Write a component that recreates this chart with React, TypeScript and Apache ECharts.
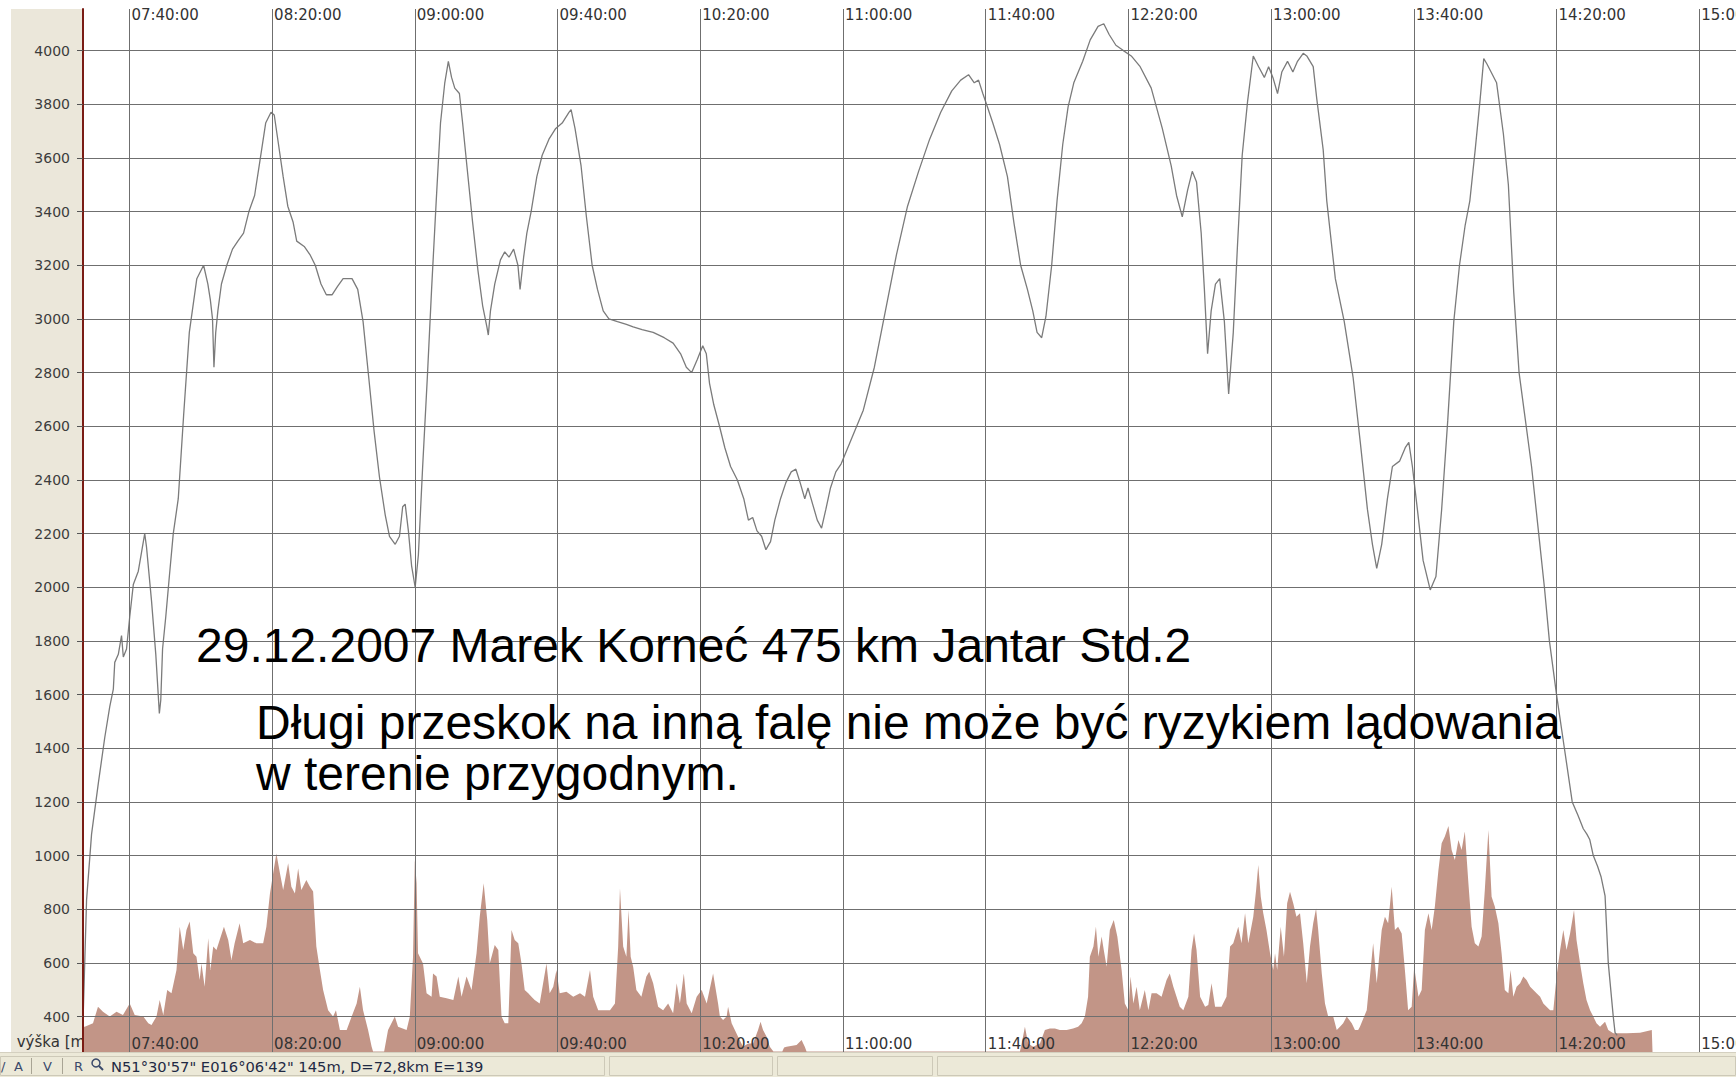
import React, { useEffect, useRef } from "react";
import * as echarts from "echarts";

// ---- data (time in minutes after midnight, value in metres) ----
const altitudeTicks = [400, 600, 800, 1000, 1200, 1400, 1600, 1800, 2000, 2200, 2400, 2600, 2800, 3000, 3200, 3400, 3600, 3800, 4000];
const timeTicks = [460, 500, 540, 580, 620, 660, 700, 740, 780, 820, 860, 900];

const altitude: [number, number][] = [
  [447.0, 380], [448.0, 835], [449.4, 1080], [451.3, 1270], [453.1, 1440], [454.5, 1555], [455.5, 1620], [455.9, 1720],
  [456.9, 1750], [457.8, 1820], [458.3, 1740], [459.2, 1770], [460.1, 1890], [461.1, 2010], [462.5, 2060], [463.4, 2130],
  [464.3, 2200], [464.8, 2150], [466.2, 1950], [467.4, 1750], [468.4, 1530], [468.8, 1580], [469.3, 1770], [470.2, 1890],
  [471.2, 2040], [472.3, 2200], [473.7, 2330], [475.2, 2640], [476.8, 2950], [478.9, 3150], [480.8, 3200], [482.0, 3130],
  [482.7, 3070], [483.3, 3000], [483.7, 2820], [484.2, 2950], [484.8, 3030], [485.8, 3130], [487.3, 3200], [488.9, 3260],
  [490.4, 3290], [492.0, 3320], [493.5, 3400], [495.1, 3460], [496.6, 3590], [498.2, 3730], [499.7, 3770], [500.6, 3760],
  [501.8, 3650], [503.1, 3530], [504.4, 3420], [505.9, 3360], [506.9, 3290], [509.0, 3270], [510.6, 3240], [512.1, 3200],
  [513.7, 3130], [515.2, 3090], [516.8, 3090], [518.3, 3120], [519.9, 3150], [522.4, 3150], [524.0, 3110], [525.5, 2990],
  [527.1, 2780], [528.6, 2580], [530.1, 2410], [531.7, 2270], [532.9, 2190], [534.5, 2160], [535.7, 2190], [536.6, 2300],
  [537.3, 2310], [538.2, 2210], [539.1, 2080], [540.1, 2000], [541.0, 2120], [542.2, 2450], [543.5, 2780], [544.7, 3110],
  [546.0, 3440], [547.2, 3730], [548.4, 3880], [549.4, 3960], [550.3, 3900], [551.2, 3860], [552.5, 3840], [553.4, 3730],
  [554.6, 3570], [556.2, 3360], [557.7, 3180], [559.0, 3050], [560.2, 2970], [560.6, 2940], [561.2, 3030], [562.4, 3130],
  [564.0, 3220], [565.2, 3250], [566.4, 3230], [567.7, 3260], [568.9, 3200], [569.5, 3110], [570.5, 3230], [571.4, 3320],
  [572.6, 3400], [574.2, 3530], [575.7, 3610], [577.6, 3670], [579.5, 3710], [581.3, 3730], [583.2, 3770], [583.8, 3780],
  [584.9, 3710], [586.6, 3570], [588.1, 3380], [589.7, 3200], [591.2, 3110], [592.8, 3030], [594.4, 3000], [596.8, 2990],
  [599.3, 2980], [601.2, 2970], [603.7, 2960], [606.8, 2950], [609.9, 2930], [612.4, 2910], [614.5, 2870], [616.1, 2820],
  [617.6, 2800], [619.2, 2850], [620.7, 2900], [621.7, 2870], [622.6, 2760], [623.8, 2680], [625.4, 2600], [626.9, 2520],
  [628.5, 2450], [630.4, 2400], [632.2, 2330], [633.5, 2250], [634.7, 2260], [635.9, 2210], [637.2, 2190], [638.4, 2140],
  [639.7, 2170], [640.9, 2250], [642.5, 2330], [644.0, 2390], [645.5, 2430], [646.8, 2440], [648.0, 2390], [649.3, 2330],
  [650.2, 2370], [651.5, 2310], [652.8, 2250], [654.0, 2220], [655.2, 2290], [656.5, 2370], [658.0, 2430], [659.5, 2460],
  [662.6, 2560], [665.7, 2660], [668.8, 2820], [671.9, 3030], [675.0, 3240], [678.1, 3420], [681.2, 3550], [684.3, 3670],
  [687.4, 3770], [690.5, 3850], [693.0, 3890], [695.2, 3910], [696.8, 3880], [698.0, 3890], [699.2, 3840], [700.5, 3790],
  [702.0, 3730], [703.9, 3650], [706.1, 3530], [707.9, 3360], [709.8, 3200], [711.7, 3110], [713.2, 3030], [714.4, 2950],
  [715.7, 2930], [716.9, 3010], [718.5, 3200], [720.0, 3440], [721.6, 3650], [723.1, 3790], [724.7, 3880], [727.2, 3960],
  [729.3, 4040], [731.5, 4090], [733.1, 4100], [734.6, 4060], [736.5, 4020], [738.6, 4000], [740.8, 3980], [743.3, 3940],
  [746.4, 3860], [749.5, 3710], [752.0, 3570], [753.5, 3460], [755.1, 3380], [756.6, 3480], [757.9, 3550], [759.1, 3510],
  [760.4, 3320], [761.3, 3110], [762.2, 2870], [763.2, 3030], [764.4, 3130], [765.6, 3150], [766.9, 2990], [768.1, 2720],
  [769.4, 2950], [770.6, 3280], [771.9, 3610], [773.4, 3810], [775.0, 3980], [776.5, 3940], [778.1, 3900], [779.3, 3940],
  [780.5, 3900], [781.8, 3840], [783.0, 3920], [784.6, 3960], [786.1, 3920], [787.4, 3960], [789.0, 3990], [790.0, 3980],
  [791.8, 3940], [792.8, 3820], [794.6, 3630], [795.6, 3440], [798.0, 3150], [800.5, 2990], [803.0, 2780], [805.0, 2540],
  [807.0, 2290], [808.4, 2160], [809.6, 2070], [811.0, 2160], [812.6, 2330], [814.0, 2450], [816.0, 2470], [817.6, 2520],
  [818.6, 2540], [819.6, 2450], [821.0, 2290], [822.6, 2100], [824.6, 1990], [826.2, 2040], [827.8, 2290], [829.5, 2620],
  [831.2, 2990], [832.8, 3200], [834.4, 3350], [835.7, 3440], [837.2, 3630], [838.6, 3820], [839.6, 3970], [840.5, 3950],
  [843.2, 3880], [845.1, 3690], [846.5, 3500], [848.0, 3100], [849.5, 2800], [851.0, 2650], [853.0, 2450], [855.0, 2200],
  [856.6, 2000], [858.0, 1800], [860.0, 1600], [862.2, 1400], [864.4, 1200], [866.0, 1150], [867.5, 1100], [868.5, 1080],
  [869.3, 1060], [870.3, 1000], [871.5, 960], [872.5, 920], [873.6, 850], [874.5, 600], [875.9, 400], [876.4, 340],
  [877.0, 330]
];

const terrain: [number, number][] = [
  [447.0, 362], [447.5, 362], [449.8, 375], [451.2, 437], [452.6, 418], [454.5, 400], [456.4, 418], [458.2, 406],
  [460.1, 449], [461.5, 406], [463.9, 400], [465.3, 375], [466.2, 369], [467.6, 400], [468.5, 462], [469.5, 406],
  [470.6, 499], [471.8, 487], [473.2, 574], [474.1, 735], [475.1, 648], [476.0, 723], [476.9, 754], [477.9, 636],
  [478.8, 623], [479.7, 536], [480.2, 598], [481.1, 511], [482.1, 692], [482.7, 574], [483.5, 661], [484.4, 648],
  [485.3, 685], [486.5, 735], [487.7, 685], [488.6, 611], [489.5, 673], [490.9, 748], [491.9, 673], [493.8, 685],
  [495.6, 673], [497.5, 673], [498.4, 735], [499.4, 859], [500.3, 934], [501.2, 1008], [502.2, 934], [503.1, 872],
  [504.5, 971], [505.4, 884], [506.4, 859], [507.3, 952], [508.2, 872], [509.6, 909], [510.6, 884], [511.5, 866],
  [512.4, 661], [513.4, 574], [514.3, 499], [515.7, 424], [517.1, 400], [517.9, 424], [519.0, 350], [520.9, 350],
  [522.3, 400], [523.7, 449], [524.6, 511], [525.5, 424], [526.9, 350], [527.9, 288], [528.3, 270], [531.4, 270],
  [532.5, 350], [534.4, 400], [535.3, 362], [537.7, 350], [538.6, 400], [539.5, 623], [540.0, 984], [540.5, 897],
  [540.9, 636], [542.3, 598], [543.3, 487], [544.7, 474], [545.1, 561], [546.1, 549], [547.0, 474], [548.9, 468],
  [550.8, 462], [552.2, 549], [553.1, 474], [554.5, 549], [555.9, 499], [557.3, 636], [558.2, 772], [559.3, 897],
  [560.3, 760], [561.0, 598], [562.4, 667], [563.4, 648], [564.3, 400], [565.2, 375], [566.2, 375], [567.1, 723],
  [568.0, 685], [569.0, 673], [569.9, 598], [570.8, 499], [571.8, 487], [572.7, 474], [573.6, 462], [575.0, 449],
  [576.9, 598], [577.8, 487], [578.8, 511], [579.7, 574], [580.6, 487], [582.5, 493], [584.4, 474], [586.3, 487],
  [587.7, 474], [589.1, 574], [590.0, 474], [591.4, 424], [592.8, 424], [594.7, 424], [596.1, 449], [597.0, 661],
  [597.5, 878], [598.4, 661], [599.3, 623], [599.9, 797], [600.5, 623], [601.2, 586], [602.1, 499], [603.5, 474],
  [604.9, 549], [605.7, 567], [606.8, 524], [608.2, 437], [609.6, 424], [611.0, 449], [612.4, 412], [613.4, 524],
  [614.3, 449], [615.4, 561], [616.2, 449], [617.6, 412], [619.0, 474], [620.4, 499], [621.8, 449], [623.6, 561],
  [625.0, 449], [625.5, 400], [626.4, 387], [627.4, 400], [627.8, 437], [628.8, 375], [629.7, 350], [630.6, 325],
  [632.0, 288], [633.4, 300], [634.8, 300], [636.2, 350], [636.9, 381], [637.6, 350], [638.6, 325], [639.5, 288],
  [640.5, 270], [643.0, 270], [643.5, 285], [644.2, 288], [647.0, 294], [648.4, 313], [649.3, 288], [649.8, 270],
  [709.6, 270], [710.1, 300], [711.0, 362], [711.9, 300], [713.3, 288], [715.2, 300], [716.6, 350], [718.0, 356],
  [719.4, 356], [720.8, 350], [722.7, 350], [724.5, 356], [725.9, 362], [726.9, 375], [727.8, 400], [728.7, 474],
  [729.2, 623], [730.2, 661], [730.9, 735], [731.6, 623], [732.5, 698], [733.1, 648], [733.9, 586], [734.8, 723],
  [735.9, 760], [736.9, 698], [738.1, 574], [739.0, 449], [740.0, 424], [740.6, 549], [741.4, 449], [742.3, 511],
  [743.2, 424], [744.6, 499], [745.6, 424], [746.5, 487], [747.9, 487], [749.3, 474], [750.7, 536], [751.6, 561],
  [752.6, 511], [753.5, 474], [754.4, 437], [755.4, 424], [756.8, 474], [757.7, 648], [758.4, 710], [759.1, 648],
  [760.1, 474], [761.5, 437], [762.4, 443], [763.3, 524], [764.3, 437], [766.1, 437], [767.5, 474], [768.5, 661],
  [769.4, 673], [770.8, 735], [771.7, 673], [772.7, 785], [773.6, 673], [775.0, 772], [775.8, 872], [776.4, 965],
  [777.1, 847], [777.8, 785], [778.7, 723], [779.7, 636], [780.6, 574], [781.1, 636], [781.7, 574], [782.7, 735],
  [783.6, 623], [784.5, 822], [785.3, 865], [786.2, 822], [787.1, 772], [788.1, 785], [789.0, 673], [790.0, 524],
  [790.9, 661], [791.8, 748], [792.6, 803], [793.2, 723], [794.2, 561], [795.1, 449], [796.0, 400], [797.4, 400],
  [798.4, 350], [799.3, 362], [800.2, 375], [801.2, 400], [802.6, 375], [803.5, 350], [804.4, 350], [804.9, 362],
  [806.8, 424], [808.6, 673], [809.6, 524], [811.0, 723], [811.9, 772], [812.8, 748], [813.8, 884], [814.7, 723],
  [815.6, 735], [816.6, 710], [817.5, 574], [818.4, 424], [819.4, 437], [820.1, 586], [821.3, 474], [822.2, 499],
  [823.1, 723], [824.1, 785], [825.0, 723], [825.9, 810], [826.9, 946], [827.8, 1046], [828.7, 1071], [829.7, 1110],
  [830.6, 1021], [831.5, 984], [832.5, 1058], [833.4, 1021], [834.3, 1090], [835.3, 897], [836.2, 735], [837.1, 673],
  [838.1, 661], [839.0, 698], [839.9, 872], [840.9, 1095], [841.8, 847], [842.7, 810], [843.7, 748], [844.6, 636],
  [845.5, 499], [846.5, 487], [847.1, 574], [847.9, 474], [848.8, 511], [849.8, 524], [850.7, 549], [851.6, 536],
  [852.6, 511], [853.5, 499], [854.4, 487], [855.4, 474], [856.3, 449], [857.2, 437], [858.2, 424], [859.1, 424],
  [860.0, 549], [861.0, 648], [861.9, 723], [862.8, 648], [863.8, 710], [864.9, 797], [865.6, 685], [866.6, 598],
  [867.5, 524], [868.4, 462], [869.4, 424], [870.3, 400], [871.2, 375], [872.2, 362], [873.6, 381], [874.5, 350],
  [875.9, 338], [876.8, 338], [879.7, 338], [883.4, 340], [886.7, 350], [886.9, 270]
];

const overlayLines = [
  "29.12.2007 Marek Korneć 475 km Jantar Std.2",
  "Długi przeskok na inną falę nie może być ryzykiem lądowania",
  "w terenie przygodnym."
];
const axisName = "výška [m]";
const statusButtons = ["/", "A", "V", "R"];
const statusText = "N51°30'57\" E016°06'42\" 145m, D=72,8km E=139";

const pad = (n: number) => (n < 10 ? "0" + n : "" + n);
const fmtTime = (m: number) => {
  const h = Math.floor(m / 60);
  const mm = Math.round(m - h * 60);
  return `${pad(h)}:${pad(mm)}:00`;
};

const LABEL_FONT = "DejaVu Sans";
const GRID_COLOR = "#6f6f6f";

export default function App() {
  const ref = useRef<HTMLDivElement>(null);
  useEffect(() => {
    if (!ref.current) return;
    const chart = echarts.init(ref.current, undefined, { renderer: "svg" });
    const xBase = {
      type: "value" as const,
      min: 447,
      max: 910.3,
      z: 10,
      axisLine: { show: false },
      axisTick: { show: false },
      splitLine: { show: false },
    };
    const xLabel = {
      inside: true,
      customValues: timeTicks,
      formatter: (v: number) => fmtTime(v),
      align: "left",
      padding: [0, 0, 0, 2],
      color: "#333",
      fontFamily: LABEL_FONT,
      fontSize: 15,
    };
    const gridLines = [
      ...altitudeTicks.map((v) => ({ yAxis: v })),
      ...timeTicks.map((t) => ({ xAxis: t })),
    ];
    chart.setOption({
      animation: false,
      backgroundColor: "#ffffff",
      grid: { left: 83, top: 9, right: 0, bottom: 25, containLabel: false, outerBoundsMode: "none" },
      xAxis: [
        { ...xBase, position: "bottom", axisLabel: { ...xLabel, margin: 1 } },
        { ...xBase, position: "top", axisLabel: { ...xLabel, margin: -2 } },
      ],
      yAxis: {
        type: "value",
        min: 268,
        max: 4155,
        z: 10,
        axisLine: { show: true, lineStyle: { color: "#7a1c14", width: 2 } },
        axisTick: { show: true, length: 6, customValues: altitudeTicks, lineStyle: { color: "#555" } },
        axisLabel: {
          customValues: altitudeTicks,
          formatter: (v: number) => String(v),
          margin: 13,
          color: "#3c3c3c",
          fontFamily: LABEL_FONT,
          fontSize: 14,
        },
        splitLine: { show: false },
      },
      series: [
        {
          type: "line",
          name: "terrain",
          data: terrain,
          symbol: "none",
          lineStyle: { width: 0 },
          areaStyle: { color: "#c29587", opacity: 1 },
          z: 1,
          silent: true,
        },
        {
          type: "line",
          name: "altitude",
          data: altitude,
          symbol: "none",
          lineStyle: { color: "#7b7b7b", width: 1.3 },
          z: 3,
          silent: true,
          markLine: {
            silent: true,
            symbol: ["none", "none"],
            label: { show: false },
            lineStyle: { color: GRID_COLOR, width: 1, type: "solid" },
            emphasis: { disabled: true },
            data: gridLines,
            z: 5,
          },
        },
      ],
      graphic: [
        { type: "rect", z: -10, shape: { x: 11, y: 9, width: 72, height: 1044 }, style: { fill: "#ebe7da" } },
        {
          type: "text", z: -5, x: 91, y: 1042,
          style: { text: axisName, fill: "#333", fontFamily: LABEL_FONT, fontSize: 15, align: "right", verticalAlign: "middle" },
        },
        ...overlayLines.map((t, i) => ({
          type: "text", z: 50,
          x: i === 0 ? 196 : 256,
          y: i === 0 ? 645 : i === 1 ? 722 : 773,
          style: { text: t, fill: "#000", fontFamily: "Liberation Sans", fontSize: 48, align: "left", verticalAlign: "middle" },
        })),
        // status bar
        { type: "rect", z: 20, shape: { x: 0, y: 1052, width: 1736, height: 25 }, style: { fill: "#ece9d8" } },
        { type: "line", z: 21, shape: { x1: 0, y1: 1052.5, x2: 1736, y2: 1052.5 }, style: { stroke: "#d4d0c0", lineWidth: 1 } },
        ...[[0, 605], [609, 773], [777, 933], [937, 1736]].map(([a, b]) => ({
          type: "rect", z: 21,
          shape: { x: a + 0.5, y: 1056.5, width: b - a - 1, height: 19 },
          style: { fill: "#ece9d8", stroke: "#cdc9b8", lineWidth: 1 },
        })),
        ...statusButtons.map((s, i) => ({
          type: "text", z: 22, x: [1, 14, 43, 74][i], y: 1066,
          style: { text: s, fill: "#3b4a6b", fontFamily: LABEL_FONT, fontSize: 13, verticalAlign: "middle" },
        })),
        ...[31, 62].map((x) => ({
          type: "line", z: 22, shape: { x1: x + 0.5, y1: 1058, x2: x + 0.5, y2: 1074 }, style: { stroke: "#a8a494", lineWidth: 1 },
        })),
        { type: "circle", z: 22, shape: { cx: 96, cy: 1063, r: 4 }, style: { fill: "none", stroke: "#3b4a6b", lineWidth: 1.5 } },
        { type: "line", z: 22, shape: { x1: 99, y1: 1066, x2: 103, y2: 1070 }, style: { stroke: "#3b4a6b", lineWidth: 2 } },
        {
          type: "text", z: 22, x: 111, y: 1066,
          style: { text: statusText, fill: "#1f2a44", fontFamily: LABEL_FONT, fontSize: 14.7, verticalAlign: "middle" },
        },
      ],
    });
    return () => chart.dispose();
  }, []);
  return <div ref={ref} style={{ position: "fixed", left: 0, top: 0, width: 1736, height: 1077 }} />;
}
